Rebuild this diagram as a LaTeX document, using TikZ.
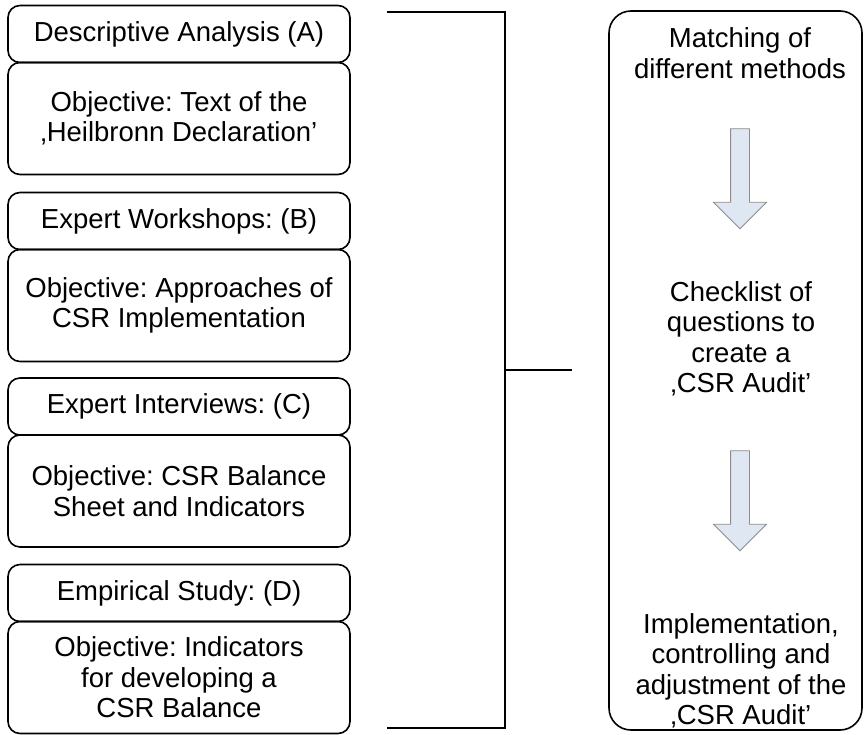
\documentclass[tikz,border=0pt]{standalone}
\usepackage{fontspec}
\setmainfont{Liberation Sans}
\usetikzlibrary{positioning,shapes.arrows}
\definecolor{arrowfill}{HTML}{DFE7F3}
\definecolor{arrowline}{HTML}{8C8C8C}
\tikzset{
  base/.style={font=\fontsize{27.5}{30.5}\selectfont\frenchspacing, align=center, outer sep=0pt},
  head/.style={base, draw, line width=1.6pt, rounded corners=12pt, minimum width=342pt, minimum height=57pt},
  goal/.style={base, draw, line width=1.6pt, rounded corners=12pt, minimum width=342pt, minimum height=112pt},
  flow/.style={single arrow, draw=arrowline, fill=arrowfill, line width=0.8pt, rotate=-90,
    inner xsep=0pt, inner ysep=9pt, single arrow head extend=17pt, minimum height=100pt}
}
\begin{document}
\begin{tikzpicture}[x=1pt, y=-1pt, node distance=0pt]
\useasboundingbox (0,0) rectangle (864,734);
% left column
\node (hA) [head] at (179,34) {Descriptive Analysis (A)};
\node (gA) [goal, below=of hA] {Objective: Text of the\\‚Heilbronn Declaration’};
\node (hB) [head] at (179,221) {Expert Workshops: (B)};
\node (gB) [goal, below=of hB] {Objective: Approaches of\\CSR Implementation};
\node (hC) [head] at (179,406.5) {Expert Interviews: (C)};
\node (gC) [goal, below=of hC] {Objective: CSR Balance\\Sheet and Indicators};
\node (hD) [head] at (179,593) {Empirical Study: (D)};
\node (gD) [goal, below=of hD] {Objective: Indicators\\for developing a\\CSR Balance};
% bracket
\coordinate (topEnd) at (387,12);
\coordinate (botEnd) at (387,728);
\coordinate (midEnd) at (572,370);
\draw[line width=1.6pt] (topEnd) -- ++(118,0) |- (botEnd);
\draw[line width=1.6pt] (midEnd) -- ++(-67,0);
% right column
\node (audit) [base, draw, line width=1.6pt, rounded corners=22pt, minimum width=253pt, minimum height=719pt] at (735.5,370.5) {};
\node (match) [base] at (740,53) {Matching of\\different methods};
\node (check) [base] at (741,339) {Checklist of\\questions to\\create a\\‚CSR Audit’};
\node (impl) [base] at (741,671) {Implementation,\\controlling and\\adjustment of the\\‚CSR Audit’};
\node (arr1) [flow] at (740,174) {};
\node (arr2) [flow] at (740,496) {};
\end{tikzpicture}
\end{document}
